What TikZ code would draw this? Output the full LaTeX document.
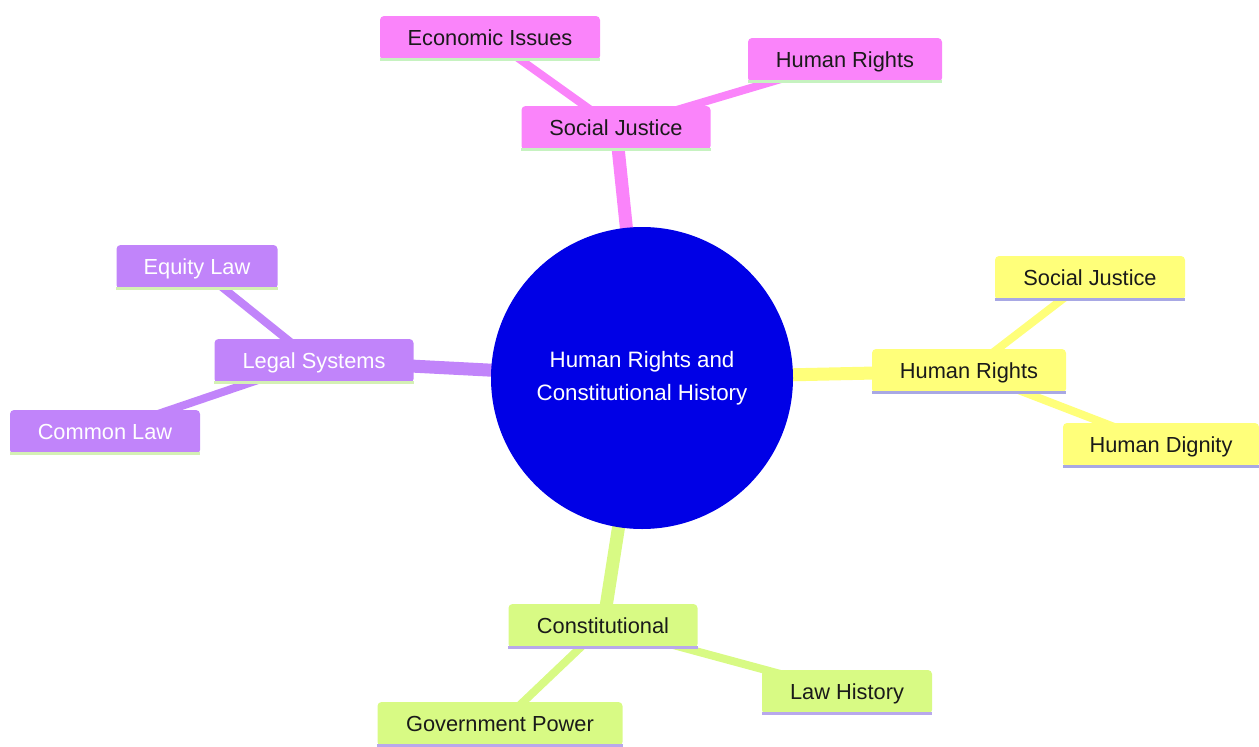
\documentclass[tikz,border=0pt]{standalone}
\usepackage{fontspec}
\setmainfont{Liberation Sans}
\usetikzlibrary{backgrounds}
\definecolor{cpink}{HTML}{FA84FA}
\definecolor{cyellow}{HTML}{FFFF7A}
\definecolor{cgreen}{HTML}{D8FA84}
\definecolor{cpurple}{HTML}{C184FA}
\definecolor{cblue}{HTML}{0000E6}
\definecolor{lpink}{HTML}{C6F2C0}
\definecolor{lpurple}{HTML}{D4F0B4}
\definecolor{lyellow}{HTML}{A8A8E4}
\definecolor{lgreen}{HTML}{B8A8EC}
\definecolor{ink}{HTML}{1A1A1A}
\begin{document}
\begin{tikzpicture}[x=1pt,y=-1pt,
  box/.style={rounded corners=4pt, minimum height=44pt, inner xsep=8pt, inner ysep=0pt,
    font=\fontsize{21.8}{26}\selectfont, text height=17.5pt, text depth=2.5pt, text=ink},
  pinkbox/.style={box, fill=cpink},
  yellowbox/.style={box, fill=cyellow},
  greenbox/.style={box, fill=cgreen},
  purplebox/.style={box, fill=cpurple, text=white},
  mainedge/.style={line width=13pt},
  subedge/.style={line width=8pt},
  botline/.style={line width=3pt}]
\useasboundingbox (0,0) rectangle (1259,747);

\node[circle, fill=cblue, minimum size=302pt, inner sep=0pt, text=white, align=center,
  font=\fontsize{22.3}{33}\selectfont] (root) at (642,378) {Human Rights and\\Constitutional History};

\node[pinkbox, minimum width=189pt] (sj) at (616,128) {Social Justice};
\node[pinkbox, minimum width=220pt] (ei) at (490,38) {Economic Issues};
\node[pinkbox, minimum width=194pt] (hr1) at (845,60) {Human Rights};

\node[yellowbox, minimum width=194pt] (hr) at (969,371) {Human Rights};
\node[yellowbox, minimum width=190pt] (sj2) at (1090,278) {Social Justice};
\node[yellowbox, minimum width=196pt] (hd) at (1161,445) {Human Dignity};

\node[purplebox, minimum width=199pt] (ls) at (314,361) {Legal Systems};
\node[purplebox, minimum width=161pt] (el) at (197,267) {Equity Law};
\node[purplebox, minimum width=190pt] (cl) at (105,432) {Common Law};

\node[greenbox, minimum width=189pt] (co) at (603,626) {Constitutional};
\node[greenbox, minimum width=245pt] (gp) at (500,724) {Government Power};
\node[greenbox, minimum width=170pt] (lh) at (847,692) {Law History};

\foreach \n/\c in {sj/lpink, ei/lpink, hr1/lpink, hr/lyellow, sj2/lyellow, hd/lyellow,
  ls/lpurple, el/lpurple, cl/lpurple, co/lgreen, gp/lgreen, lh/lgreen}
  \draw[botline, draw=\c] ([yshift=0.5pt]\n.south west) -- ([yshift=0.5pt]\n.south east);

\begin{scope}[on background layer]
  \draw[mainedge, cpink] (root.center) -- (sj.center);
  \draw[subedge, cpink] (sj.center) -- (ei.center);
  \draw[subedge, cpink] (sj.center) -- (hr1.center);
  \draw[mainedge, cyellow] (root.center) -- (hr.center);
  \draw[subedge, cyellow] (hr.center) -- (sj2.center);
  \draw[subedge, cyellow] (hr.center) -- (hd.center);
  \draw[mainedge, cpurple] (root.center) -- (ls.center);
  \draw[subedge, cpurple] (ls.center) -- (el.center);
  \draw[subedge, cpurple] (ls.center) -- (cl.center);
  \draw[mainedge, cgreen] (root.center) -- (co.center);
  \draw[subedge, cgreen] (co.center) -- (gp.center);
  \draw[subedge, cgreen] (co.center) -- (lh.center);
\end{scope}
\end{tikzpicture}
\end{document}
